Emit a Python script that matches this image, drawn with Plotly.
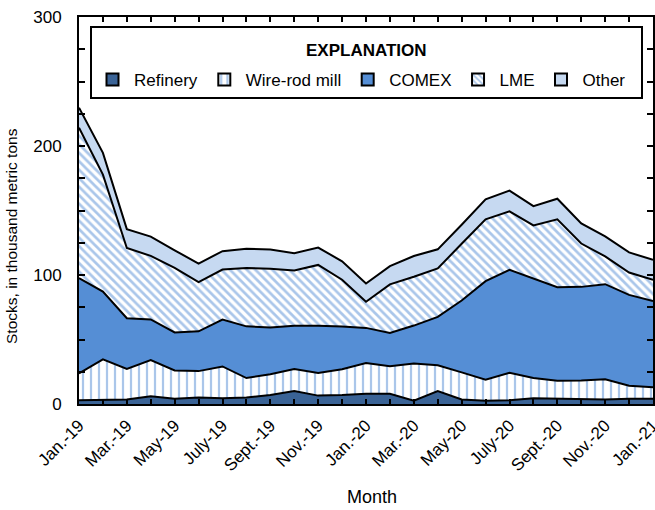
import plotly.graph_objects as go

months = ["Jan.-19", "Feb.-19", "Mar.-19", "Apr.-19", "May-19", "June-19", "July-19", "Aug.-19",
          "Sept.-19", "Oct.-19", "Nov.-19", "Dec.-19", "Jan.-20", "Feb.-20", "Mar.-20", "Apr.-20",
          "May-20", "June-20", "July-20", "Aug.-20", "Sept.-20", "Oct.-20", "Nov.-20", "Dec.-20", "Jan.-21"]
tick_labels = ["Jan.-19", "", "Mar.-19", "", "May-19", "", "July-19", "", "Sept.-19", "", "Nov.-19", "",
               "Jan.-20", "", "Mar.-20", "", "May-20", "", "July-20", "", "Sept.-20", "", "Nov.-20", "", "Jan.-21"]

refinery = [3, 3.5, 3.5, 6, 4, 5, 4.5, 5, 7, 10, 6.5, 7, 8, 8, 2.5, 10, 3.5, 2.5, 3, 4.5, 4, 4, 3.5, 4, 4]
wire_rod = [20.7, 31.1, 23.6, 28, 22, 20.5, 24.6, 15.1, 16.1, 17.1, 17.6, 20, 23.8, 21.2, 28.8, 20,
            21, 16.3, 21.2, 15.6, 14, 14.2, 15.6, 10.1, 8.9]
comex = [73.9, 52.6, 39.4, 31.6, 29.5, 30.8, 36.3, 40.1, 36.2, 33.6, 36.5, 33.1, 27.2, 25.9, 29.5, 37.5,
         55.7, 76.4, 79.8, 76.9, 72.5, 72.6, 73.8, 70.5, 67]
lme = [116.5, 90.6, 54.4, 49.2, 50, 38.1, 38.8, 45.3, 45.6, 42.8, 47.2, 36.2, 20.2, 37.6, 37.8, 37.6,
       44, 48, 45.3, 41.4, 52.6, 33.6, 21.5, 17.3, 16.3]
other = [15.6, 16.9, 14.7, 15, 13.6, 14.5, 14.3, 14.8, 14.8, 13.4, 13.5, 14.3, 14.2, 14.2, 16.1, 14.8,
         14.8, 15.5, 16.1, 15, 16, 15.6, 15.5, 15.6, 15.6]

x = list(range(len(months)))

FONT = "Liberation Sans, Arial, sans-serif"
DARK = "#3a6396"
MID = "#558ed5"
LIGHT = "#c6d9f1"

series = [
    ("Refinery", refinery, dict(fillcolor=DARK), dict(color=DARK)),
    ("Wire-rod mill", wire_rod,
     dict(fillcolor="white", fillpattern=dict(shape="|", fgcolor=MID, bgcolor="white", size=8, solidity=0.28)),
     dict(color="white", pattern=dict(shape="|", fgcolor=MID, bgcolor="white", size=8, solidity=0.35))),
    ("COMEX", comex, dict(fillcolor=MID), dict(color=MID)),
    ("LME", lme,
     dict(fillcolor="white", fillpattern=dict(shape="\\", fgcolor=MID, bgcolor="white", size=6, solidity=0.45)),
     dict(color="white", pattern=dict(shape="\\", fgcolor=MID, bgcolor="white", size=5, solidity=0.45))),
    ("Other", other, dict(fillcolor=LIGHT), dict(color=LIGHT)),
]

fig = go.Figure()
for name, vals, fillkw, _ in series:
    fig.add_trace(go.Scatter(x=x, y=vals, name=name, mode="lines", stackgroup="one",
                             line=dict(color="black", width=2), showlegend=False, hoverinfo="skip",
                             **fillkw))
for name, vals, _, mk in series:
    fig.add_trace(go.Bar(x=[None], y=[None], name=name,
                         marker=dict(line=dict(color="black", width=2), **mk)))

W, H = 655, 510
L, R, T, B = 79, 2, 17, 106
pw, ph = W - L - R, H - T - B


def px(xp):
    return (xp - L) / pw


def py(yp):
    return (H - B - yp) / ph


fig.update_layout(
    width=W, height=H,
    margin=dict(l=L, r=R, t=T, b=B, autoexpand=False),
    paper_bgcolor="white", plot_bgcolor="white",
    font=dict(family=FONT, size=17, color="black"),
    showlegend=True,
    legend=dict(orientation="h", traceorder="normal", x=px(91), xanchor="left", y=py(80), yanchor="middle",
                font=dict(family=FONT, size=17), bgcolor="rgba(0,0,0,0)", borderwidth=0,
                itemclick=False, itemwidth=33),
    xaxis=dict(range=[0, 24], tickmode="array", tickvals=x, ticktext=tick_labels,
               tickangle=-45, ticks="inside", ticklen=5, tickwidth=1.5, tickcolor="black",
               showline=True, linecolor="black", linewidth=2, mirror="ticks",
               showgrid=False, zeroline=False, tickfont=dict(family=FONT, size=17),
               ticklabelstandoff=3, automargin=False, ticklabeloverflow="allow"),
    yaxis=dict(range=[0, 300], tickvals=[0, 100, 200, 300], ticks="inside", ticklen=6, tickwidth=1.5,
               tickcolor="black", showline=True, linecolor="black", linewidth=2, mirror="ticks",
               showgrid=False, zeroline=False, tickfont=dict(family=FONT, size=17),
               ticklabelstandoff=12, automargin=False, ticklabeloverflow="allow",
               minor=dict(dtick=25, tick0=0, ticks="inside", ticklen=6, tickwidth=1.5, tickcolor="black",
                          showgrid=False)),
    shapes=[dict(type="rect", xref="paper", yref="paper", x0=px(91), x1=px(642), y0=py(98), y1=py(27),
                 line=dict(color="black", width=2), fillcolor="white", layer="above")],
    annotations=[
        dict(text="<b>EXPLANATION</b>", xref="paper", yref="paper", x=px(366), y=py(50),
             xanchor="center", yanchor="middle", showarrow=False, font=dict(family=FONT, size=17)),
        dict(text="Month", xref="paper", yref="paper", x=px(372), y=py(497),
             xanchor="center", yanchor="middle", showarrow=False, font=dict(family=FONT, size=18)),
        dict(text="Stocks, in thousand metric tons", xref="paper", yref="paper", x=px(11), y=py(236),
             xanchor="center", yanchor="middle", textangle=-90, showarrow=False,
             font=dict(family=FONT, size=15.5)),
    ],
)

fig.write_html("out.html", config={"displayModeBar": False},
               post_script="document.body.style.margin='0';document.body.style.padding='0';")
